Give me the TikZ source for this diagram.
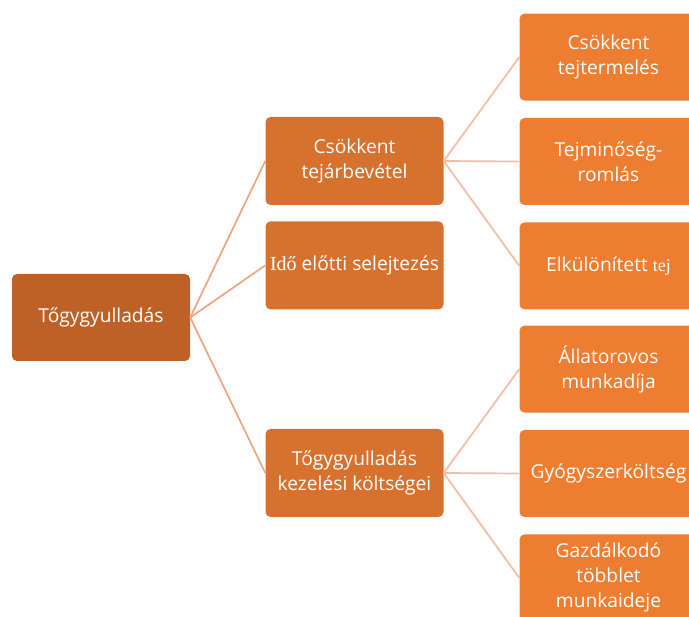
\documentclass[tikz,border=0pt]{standalone}
\usepackage{fontspec}
\setmainfont{Open Sans}
\newfontfamily\serfont{Liberation Serif}
\usepackage{tikz}
\usetikzlibrary{positioning}

\definecolor{rootfill}{HTML}{BD6126}
\definecolor{midfill}{HTML}{D7712E}
\definecolor{leaffill}{HTML}{ED7D31}
\definecolor{rootlink}{HTML}{F2A27C}
\definecolor{midlink}{HTML}{F5BBA4}

\begin{document}
\begin{tikzpicture}[x=1pt,y=-1pt,
    box/.style={rectangle,rounded corners=5pt,minimum width=178pt,minimum height=87pt,
        align=center,text=white,font=\fontsize{19.2}{25}\selectfont,inner sep=2pt},
    rootbox/.style={box,fill=rootfill},
    midbox/.style={box,fill=midfill,minimum height=88pt},
    leafbox/.style={box,fill=leaffill},
    rootedge/.style={draw=rootlink,line width=1.7pt},
    midedge/.style={draw=midlink,line width=1.7pt}]
    \useasboundingbox (0,0) rectangle (689,617);
    % root and first level
    \node[rootbox] (T) at (101,317.5) {Tőgygyulladás};
    \node[midbox] (T1) at (354.5,161) {Csökkent\\tejárbevétel};
    \node[midbox,below=16pt of T1] (T2) {{\serfont\fontsize{20}{25}\selectfont Idő} előtti selejtezés};
    \node[midbox] (T3) at (354.5,473) {Tőgygyulladás\\kezelési költségei};
    % second level
    \node[leafbox] (T12) at (608.5,161.5) {Tejminőség-\\romlás};
    \node[leafbox,above=17pt of T12] (T11) {Csökkent\\tejtermelés};
    \node[leafbox,below=17pt of T12] (T13) {Elkülönített {\serfont\fontsize{18}{20}\selectfont tej}};
    \node[leafbox] (T32) at (608.5,473.5) {Gyógyszerköltség};
    \node[leafbox,above=17pt of T32] (T31) {Állatorovos\\munkadíja};
    \node[leafbox,below=17pt of T32] (T33) {Gazdálkodó\\többlet\\munkaideje};
    % links
    \foreach \c in {T1,T2,T3}
        \draw[rootedge] (T.east) -- (\c.west);
    \foreach \c in {T11,T12,T13}
        \draw[midedge] (T1.east) -- (\c.west);
    \foreach \c in {T31,T32,T33}
        \draw[midedge] (T3.east) -- (\c.west);
\end{tikzpicture}
\end{document}
